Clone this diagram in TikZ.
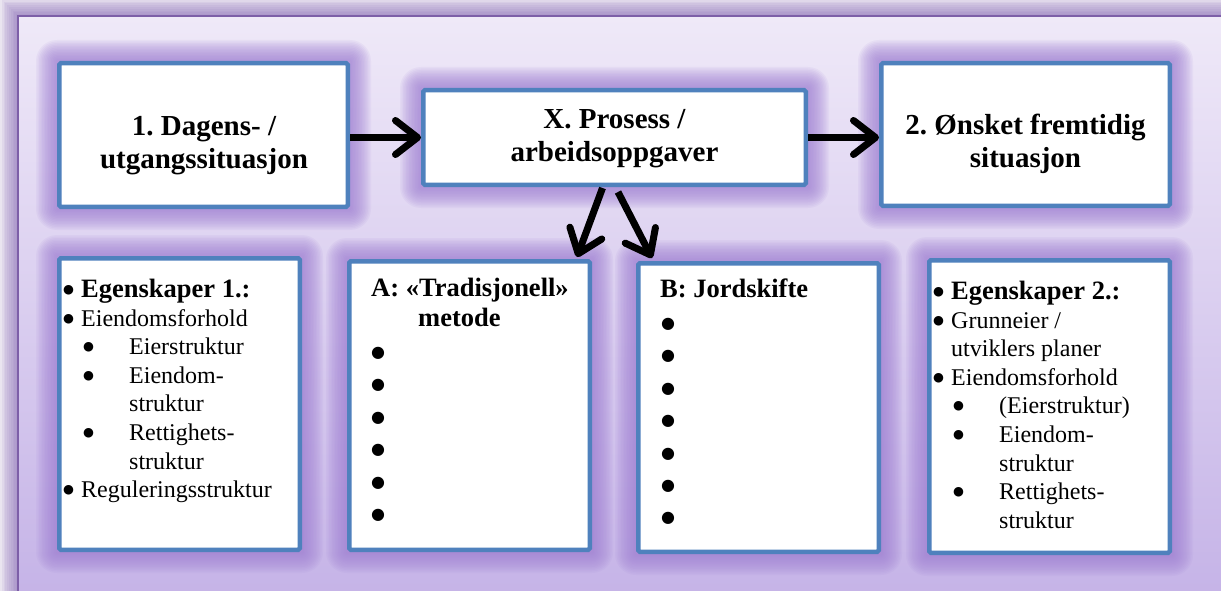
\documentclass[tikz,border=0pt]{standalone}
\usepackage{fontspec}
\setmainfont{Liberation Serif}
\newfontfamily\symfont{DejaVu Sans}
\usetikzlibrary{calc,arrows.meta}
\frenchspacing

\definecolor{canvasbg}{RGB}{234,229,240}
\definecolor{rimshade}{RGB}{140,110,185}
\definecolor{framebar}{RGB}{125,95,168}
\definecolor{paneltop}{RGB}{239,233,248}
\definecolor{panelbot}{RGB}{197,179,231}
\definecolor{glowc}{RGB}{160,128,212}
\definecolor{boxblue}{RGB}{79,129,189}

\pgfdeclarelayer{back}
\pgfdeclarelayer{halo}
\pgfsetlayers{back,halo,main}

\tikzset{
  card/.style={draw=boxblue, line width=4.5pt, fill=white, rounded corners=1.5pt, inner sep=0pt},
  ttl/.style={font=\fontsize{29}{33}\selectfont\bfseries, align=center, inner sep=0pt},
  lst/.style={font=\fontsize{24}{28.6}\selectfont, align=left, inner sep=0pt, anchor=north west},
  hdr/.style={font=\fontsize{26.5}{30}\selectfont\bfseries, align=left, inner sep=0pt, anchor=north west},
  dots/.style={font=\fontsize{26.5}{32.4}\selectfont, align=left, inner sep=0pt, anchor=north west},
  flow/.style={line width=7pt, -{Straight Barb[length=22pt,width=34pt,round]}},
}

% soft purple halo around a named box
\newcommand\cardglow[1]{%
  \foreach \d in {1.5,3,...,21}{%
    \fill[glowc, fill opacity=0.085, rounded corners=\d pt]
      ($(#1.north west)+(-\d,-\d)$) rectangle ($(#1.south east)+(\d,\d)$);}}

% list bullets
\newcommand\bul{\raisebox{4pt}{\symfont\fontsize{12.5}{12}\selectfont ●}}
\newcommand\bigbul{{\symfont\fontsize{16}{16}\selectfont ●}}
\newcommand\lvlone{\makebox[18pt][l]{\bul}}
\newcommand\lvltwo{\hspace*{20pt}\makebox[46pt][l]{\bul}}
\newcommand\lvlcont{\hspace*{66pt}}
\newcommand\lvlonecont{\hspace*{18pt}}

\begin{document}
\begin{tikzpicture}[x=1pt,y=-1pt]
\useasboundingbox (0,0) rectangle (1221,591);

% panel and its rim
\begin{pgfonlayer}{back}
  \fill[canvasbg] (0,0) rectangle (1221,591);
  \foreach \d in {1,...,9}
    \fill[rimshade, fill opacity=0.1] ({18-1.8*\d},{16-1.8*\d}) rectangle (1240,610);
  \shade[top color=paneltop, bottom color=panelbot] (18,16) rectangle (1240,600);
  \draw[framebar, line width=2pt] (18,610) -- (18,16) -- (1240,16);
\end{pgfonlayer}

% upper row
\node[card, minimum width=288.5pt, minimum height=143.5pt] (now)  at (203.5,135) {};
\node[card, minimum width=382.5pt, minimum height=94.5pt]  (proc) at (614.5,137.5) {};
\node[card, minimum width=288.5pt, minimum height=142.5pt] (goal) at (1025.5,134.5) {};

\node[ttl] (nowt)  at (204,146)    {1. Dagens- /\\utgangssituasjon};
\node[ttl] (proct) at (614.5,139)  {X. Prosess /\\arbeidsoppgaver};
\node[ttl] (goalt) at (1025.5,144) {2. Ønsket fremtidig\\situasjon};

% lower row
\node[card, minimum width=240.5pt, minimum height=291.5pt] (prop1) at (179.5,404) {};
\node[card, minimum width=240.5pt, minimum height=288.5pt] (trad)  at (469.5,405.5) {};
\node[card, minimum width=240.5pt, minimum height=288.5pt] (skift) at (758.5,407.5) {};
\node[card, minimum width=240.5pt, minimum height=292.5pt] (prop2) at (1049.5,406.5) {};

\begin{pgfonlayer}{halo}
  \cardglow{now}\cardglow{proc}\cardglow{goal}
  \cardglow{prop1}\cardglow{trad}\cardglow{skift}\cardglow{prop2}
\end{pgfonlayer}

% property lists
\node[lst] (prop1t) at (63,279) {%
  \lvlone{\fontsize{26.5}{28.6}\selectfont\bfseries Egenskaper 1.:}\\
  \lvlone Eiendomsforhold\\
  \lvltwo Eierstruktur\\
  \lvltwo Eiendom-\\
  \lvlcont struktur\\
  \lvltwo Rettighets-\\
  \lvlcont struktur\\
  \lvlone Reguleringsstruktur};

\node[lst] (prop2t) at (933,281) {%
  \lvlone{\fontsize{26.5}{28.6}\selectfont\bfseries Egenskaper 2.:}\\
  \lvlone Grunneier /\\
  \lvlonecont utviklers planer\\
  \lvlone Eiendomsforhold\\
  \lvltwo (Eierstruktur)\\
  \lvltwo Eiendom-\\
  \lvlcont struktur\\
  \lvltwo Rettighets-\\
  \lvlcont struktur};

% method columns
\node[hdr] (tradt) at (371,278) {A: «Tradisjonell»\\\hspace*{47pt}metode};
\node[dots] (tradb) at (371,347) {\bigbul\\\bigbul\\\bigbul\\\bigbul\\\bigbul\\\bigbul};

\node[hdr] (skiftt) at (660,279) {B: Jordskifte};
\node[dots] (skiftb) at (661,318) {\bigbul\\\bigbul\\\bigbul\\\bigbul\\\bigbul\\\bigbul\\\bigbul};

% connectors
\draw[flow] (now.east |- proc.west) -- (proc.west);
\draw[flow] (proc.east) -- (goal.west |- proc.east);
\draw[flow] ($(proc.south)+(-12,1)$) -- ($(trad.north east)+(-15,-2)$);
\draw[flow] ($(proc.south)+(3.5,5)$) -- ($(skift.north west)+(16,-3)$);
\end{tikzpicture}
\end{document}
